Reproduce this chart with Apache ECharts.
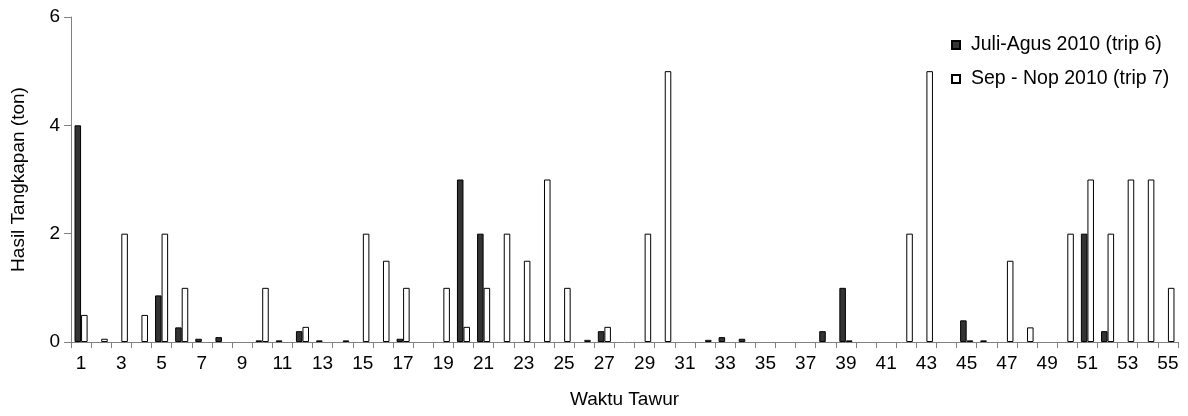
<!DOCTYPE html>
<html>
<head>
<meta charset="utf-8">
<script src="https://cdn.jsdelivr.net/npm/echarts@6/dist/echarts.min.js"></script>
<style>
html,body{margin:0;padding:0;background:#fff;}
#chart{width:1188px;height:416px;}
</style>
</head>
<body>
<div id="chart"></div>
<script>
var categories = [];
for (var i = 1; i <= 55; i++) categories.push(String(i));

var seriesNames = ['Juli-Agus 2010 (trip 6)', 'Sep - Nop 2010 (trip 7)'];

var trip6 = [4, 0, 0, 0, 0.86, 0.27, 0.06, 0.09, 0, 0.03,
             0.03, 0.2, 0.03, 0, 0, 0, 0.06, 0, 0, 3,
             2, 0, 0, 0, 0, 0, 0.2, 0, 0, 0,
             0, 0, 0.09, 0.06, 0, 0, 0, 0.2, 1, 0,
             0, 0, 0, 0, 0.4, 0.03, 0, 0, 0, 0,
             2, 0.2, 0, 0, 0];

var trip7 = [0.5, 0.06, 2, 0.5, 2, 1, 0, 0, 0, 1,
             0, 0.28, 0, 0.03, 2, 1.5, 1, 0, 1, 0.28,
             1, 2, 1.5, 3, 1, 0.04, 0.28, 0, 2, 5,
             0, 0.04, 0, 0, 0, 0, 0, 0, 0.03, 0,
             0, 2, 5, 0, 0.03, 0, 1.5, 0.27, 0, 2,
             3, 2, 3, 3, 1];

var yTicks = [0, 2, 4, 6];

function nz(arr) { return arr.map(function (v) { return v === 0 ? '-' : v; }); }

var font = 'Liberation Sans, Arial, sans-serif';
var chart = echarts.init(document.getElementById('chart'), null, {renderer: 'canvas'});
chart.setOption({
  animation: false,
  backgroundColor: '#fff',
  grid: {left: 71, right: 10, top: 17, bottom: 74, containLabel: false},
  legend: {
    orient: 'vertical',
    left: 946,
    top: 30,
    icon: 'rect',
    itemWidth: 8,
    itemHeight: 8,
    itemGap: 14,
    textStyle: {fontFamily: font, fontSize: 19.5, color: '#000', padding: [0, 0, 0, 6]},
    data: seriesNames
  },
  xAxis: {
    type: 'category',
    data: categories,
    boundaryGap: true,
    name: 'Waktu Tawur',
    nameLocation: 'middle',
    nameGap: 48,
    nameTextStyle: {fontFamily: font, fontSize: 19, color: '#000'},
    axisLine: {show: true, lineStyle: {color: '#808080', width: 1}},
    axisTick: {show: true, interval: 0, length: 6, lineStyle: {color: '#808080'}},
    axisLabel: {interval: 1, fontFamily: font, fontSize: 19, color: '#000', margin: 12},
    splitLine: {show: false}
  },
  yAxis: {
    type: 'value',
    min: yTicks[0],
    max: yTicks[yTicks.length - 1],
    interval: 2,
    name: 'Hasil Tangkapan (ton)',
    nameLocation: 'middle',
    nameGap: 43,
    nameTextStyle: {fontFamily: font, fontSize: 19, color: '#000'},
    axisLine: {show: true, lineStyle: {color: '#808080', width: 1}},
    axisTick: {show: true, length: 7, lineStyle: {color: '#808080'}},
    axisLabel: {fontFamily: font, fontSize: 19, color: '#000', margin: 11},
    splitLine: {show: false}
  },
  series: [
    {
      name: seriesNames[0],
      type: 'bar',
      data: nz(trip6),
      barGap: '0%',
      barCategoryGap: '35%',
      itemStyle: {color: '#333333', borderColor: '#000', borderWidth: 1}
    },
    {
      name: seriesNames[1],
      type: 'bar',
      data: nz(trip7),
      barGap: '0%',
      barCategoryGap: '35%',
      itemStyle: {color: '#ffffff', borderColor: '#000', borderWidth: 1}
    }
  ]
});
</script>
</body>
</html>
